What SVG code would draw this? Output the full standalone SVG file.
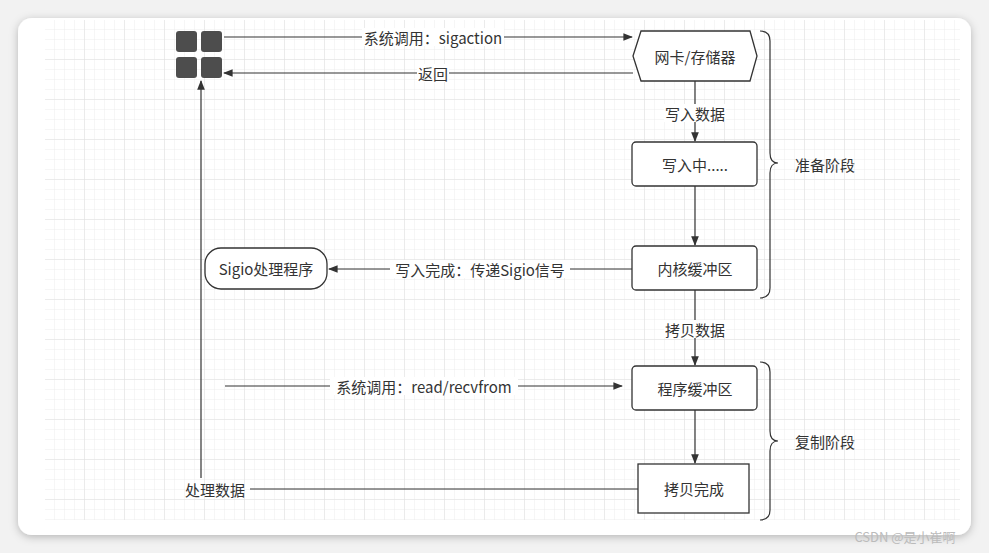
<svg xmlns="http://www.w3.org/2000/svg" width="989" height="553" viewBox="0 0 989 553">
<defs>
<pattern id="g" width="10" height="10" patternUnits="userSpaceOnUse" x="45" y="20"><path d="M10 0V10H0" fill="none" stroke="#ececec" stroke-width="1"/></pattern>
<pattern id="G" width="40" height="40" patternUnits="userSpaceOnUse" x="45" y="20"><path d="M40 0V40H0" fill="none" stroke="#e0e0e0" stroke-width="1"/></pattern>
<marker id="a" viewBox="0 0 10 10" refX="9" refY="5" markerWidth="8" markerHeight="8" orient="auto-start-reverse"><path d="M0 1L10 5L0 9z" fill="#333"/></marker>
<filter id="s" x="-5%" y="-5%" width="110%" height="110%"><feDropShadow dx="0" dy="2" stdDeviation="4" flood-color="#000" flood-opacity="0.25"/></filter>
</defs>
<style>
text{font-family:"Microsoft YaHei","Noto Sans CJK SC",sans-serif;font-size:15px;fill:#333;text-anchor:middle;dominant-baseline:central}
.b{fill:#fff;stroke:#333;stroke-width:1.3}
.l{fill:none;stroke:#333;stroke-width:1.2}
.lb{fill:#fff}
</style>
<rect width="989" height="553" fill="#f2f2f2"/>
<rect x="18" y="18" width="953" height="517" rx="14" fill="#fff" filter="url(#s)"/>
<rect x="45" y="20" width="915" height="500" fill="url(#g)"/>
<rect x="45" y="20" width="915" height="500" fill="url(#G)"/>
<g id="connectors">
<line class="l" x1="224" y1="37" x2="632" y2="37" marker-end="url(#a)"/>
<rect class="lb" x="362" y="28" width="142" height="18"/><text x="433" y="37">系统调用：sigaction</text>
<line class="l" x1="633" y1="73" x2="224" y2="73" marker-end="url(#a)"/>
<rect class="lb" x="417" y="64" width="32" height="18"/><text x="433" y="73">返回</text>
<line class="l" x1="695" y1="81" x2="695" y2="141" marker-end="url(#a)"/>
<rect class="lb" x="664" y="104" width="62" height="18"/><text x="695" y="113">写入数据</text>
<line class="l" x1="695" y1="186" x2="695" y2="245" marker-end="url(#a)"/>
<line class="l" x1="632" y1="269" x2="329" y2="269" marker-end="url(#a)"/>
<rect class="lb" x="390" y="260" width="180" height="18"/><text x="480" y="269">写入完成：传递Sigio信号</text>
<line class="l" x1="695" y1="290" x2="695" y2="365" marker-end="url(#a)"/>
<rect class="lb" x="664" y="320" width="62" height="18"/><text x="695" y="329">拷贝数据</text>
<line class="l" x1="225" y1="386" x2="622" y2="386" marker-end="url(#a)"/>
<rect class="lb" x="330" y="377" width="188" height="18"/><text x="424" y="386">系统调用：read/recvfrom</text>
<line class="l" x1="695" y1="410" x2="695" y2="463" marker-end="url(#a)"/>
<line class="l" x1="638" y1="489" x2="250" y2="489"/>
<text x="215" y="489">处理数据</text>
<line class="l" x1="201" y1="478" x2="201" y2="81" marker-end="url(#a)"/>
<path class="l" d="M760 31Q770 31 770 41V153Q770 163 778 163Q770 163 770 173V288Q770 298 760 298"/>
<text x="825" y="164">准备阶段</text>
<path class="l" d="M760 362Q770 362 770 372V431Q770 441 778 441Q770 441 770 451V510Q770 520 760 520"/>
<text x="825" y="441">复制阶段</text>
</g>
<g id="app" fill="#4d4d4d">
<rect x="176" y="31" width="21" height="21" rx="3"/><rect x="201" y="31" width="21" height="21" rx="3"/>
<rect x="176" y="57" width="21" height="21" rx="3"/><rect x="201" y="57" width="21" height="21" rx="3"/>
</g>
<g id="nic"><polygon class="b" points="641,31 750,31 757,56 750,81 641,81 633,56"/><text x="695" y="56">网卡/存储器</text></g>
<g id="writing"><rect class="b" x="632" y="142" width="125" height="44" rx="4"/><text x="695" y="164">写入中.....</text></g>
<g id="kbuf"><rect class="b" x="632" y="246" width="125" height="44" rx="4"/><text x="695" y="268">内核缓冲区</text></g>
<g id="sigio"><rect class="b" x="205" y="248" width="122" height="41" rx="16"/><text x="266" y="268">Sigio处理程序</text></g>
<g id="pbuf"><rect class="b" x="632" y="366" width="125" height="44" rx="4"/><text x="695" y="388">程序缓冲区</text></g>
<g id="done"><rect class="b" x="638" y="464" width="111" height="49"/><text x="694" y="488">拷贝完成</text></g>
<text x="905" y="536" style="fill:#bbb;font-size:13px">CSDN @是小崔啊</text>
</svg>
